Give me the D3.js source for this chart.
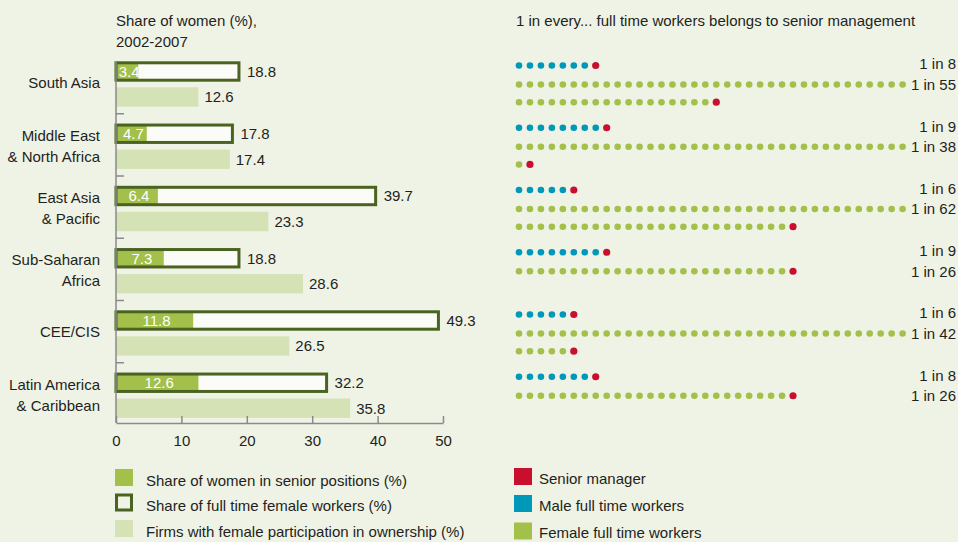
<!DOCTYPE html>
<html>
<head>
<meta charset="utf-8">
<script src="https://cdn.jsdelivr.net/npm/d3@7/dist/d3.min.js"></script>
<style>
  html, body { margin: 0; padding: 0; background: #eff3e6; }
  svg { display: block; font-family: "Liberation Sans", Arial, sans-serif; }
  text { fill: #231f20; }
</style>
</head>
<body>
<svg id="chart" width="958" height="542"></svg>
<script>
// Regions (each entry is the list of label lines)
const regions = [
  ["South Asia"],
  ["Middle East", "& North Africa"],
  ["East Asia", "& Pacific"],
  ["Sub-Saharan", "Africa"],
  ["CEE/CIS"],
  ["Latin America", "& Caribbean"]
];
// Share of women (%), 2002-2007
const seniorShare = [3.4, 4.7, 6.4, 7.3, 11.8, 12.6];
const femaleWorkerShare = [18.8, 17.8, 39.7, 18.8, 49.3, 32.2];
const femaleOwnership = [12.6, 17.4, 23.3, 28.6, 26.5, 35.8];
const xTicks = [0, 10, 20, 30, 40, 50];
// 1 in every N full time workers belongs to senior management
const maleRatio = [8, 9, 6, 9, 6, 8];
const femaleRatio = [55, 38, 62, 26, 42, 26];
const dotsPerRow = 36;

const leftLegend = [
  "Share of women in senior positions (%)",
  "Share of full time female workers (%)",
  "Firms with female participation in ownership (%)"
];
const rightLegend = ["Senior manager", "Male full time workers", "Female full time workers"];

const C = {
  bg: "#eff3e6",
  senior: "#a2c04a",
  outline: "#4a6321",
  ownership: "#d5e2b6",
  red: "#c8102e",
  blue: "#0098b8",
  green: "#a2c04a",
  axis: "#8a8a8a",
  text: "#231f20"
};

const svg = d3.select("#chart");
const FS = 15;

svg.append("rect").attr("width", 958).attr("height", 542).attr("fill", C.bg);

const keys = regions.map(r => r.join(" "));
const y = d3.scaleBand().domain(keys).range([51.5, 425]).paddingInner(0).paddingOuter(0);
const x = d3.scaleLinear().domain([0, 50]).range([116, 443]);

// ---- Left panel: bars ----
svg.append("text").attr("x", 116).attr("y", 21).attr("dy", "0.35em")
  .attr("font-size", FS).text("Share of women (%),");
svg.append("text").attr("x", 116).attr("y", 42).attr("dy", "0.35em")
  .attr("font-size", FS).text("2002-2007");

const g = svg.append("g");

regions.forEach((lines, i) => {
  const k = keys[i];
  const y0 = y(k);
  const band = y.bandwidth();
  // category label
  const cy = y0 + band / 2 + (lines.length > 1 ? 1 : 0);
  const lh = 21;
  lines.forEach((ln, j) => {
    g.append("text").attr("x", 100).attr("text-anchor", "end")
      .attr("y", cy + (j - (lines.length - 1) / 2) * lh).attr("dy", "0.35em")
      .attr("font-size", FS).text(ln);
  });

  // outlined bar: share of full-time female workers
  const oy = y0 + 11.3, oh = 17.4;
  g.append("rect").attr("x", x(0)).attr("y", oy)
    .attr("width", x(femaleWorkerShare[i]) - x(0)).attr("height", oh)
    .attr("fill", "#fbfcf7");
  g.append("rect").attr("x", x(0)).attr("y", oy)
    .attr("width", x(seniorShare[i]) - x(0)).attr("height", oh)
    .attr("fill", C.senior);
  g.append("rect").attr("x", x(0)).attr("y", oy)
    .attr("width", x(femaleWorkerShare[i]) - x(0)).attr("height", oh)
    .attr("fill", "none").attr("stroke", C.outline).attr("stroke-width", 3);
  g.append("text").attr("x", x(femaleWorkerShare[i]) + 8).attr("y", oy + oh / 2)
    .attr("dy", "0.35em").attr("font-size", FS).text(femaleWorkerShare[i].toFixed(1));
  g.append("text")
    .attr("x", Math.max(x(seniorShare[i] / 2) + 2, x(0) + 11))
    .attr("y", oy + oh / 2).attr("dy", "0.36em").attr("text-anchor", "middle")
    .attr("font-size", FS).style("fill", "#ffffff").text(seniorShare[i].toFixed(1));

  // light bar: female participation in ownership
  const ly = y0 + 35.8, lhgt = 19.4;
  g.append("rect").attr("x", x(0)).attr("y", ly)
    .attr("width", x(femaleOwnership[i]) - x(0)).attr("height", lhgt)
    .attr("fill", C.ownership);
  g.append("text").attr("x", x(femaleOwnership[i]) + 6).attr("y", ly + lhgt / 2)
    .attr("dy", "0.35em").attr("font-size", FS).text(femaleOwnership[i].toFixed(1));
});

// vertical axis with separators between regions
g.append("line").attr("x1", x(0)).attr("x2", x(0))
  .attr("y1", y(keys[0]) + 9.8).attr("y2", 423)
  .attr("stroke", C.axis).attr("stroke-width", 1.5);
keys.slice(1).forEach(k => {
  g.append("line").attr("x1", x(0)).attr("x2", x(0) + 8)
    .attr("y1", y(k)).attr("y2", y(k))
    .attr("stroke", C.axis).attr("stroke-width", 1.5);
});

// bottom axis
const xAxis = d3.axisBottom(x).tickValues(xTicks).tickFormat(d3.format("d"))
  .tickSizeInner(-7).tickSizeOuter(0).tickPadding(12);
const ax = svg.append("g").attr("transform", "translate(0,423)").call(xAxis);
ax.attr("font-family", null);
ax.select(".domain").attr("stroke", C.axis).attr("stroke-width", 1.5);
ax.selectAll(".tick line").attr("stroke", C.axis).attr("stroke-width", 1.5);
ax.selectAll(".tick text").attr("font-size", FS).style("fill", C.text);

// ---- Right panel: dots ----
svg.append("text").attr("x", 516).attr("y", 21).attr("dy", "0.35em")
  .attr("font-size", FS).text("1 in every... full time workers belongs to senior management");

const dx = d3.scaleLinear().domain([0, dotsPerRow - 1]).range([519, 902.6]);
const labelX = 956;
const d = svg.append("g");

regions.forEach((lines, i) => {
  const y0 = y(keys[i]);
  const maleY = y0 + 14;
  const femY = y0 + 33;
  const rowGap = 17.7;

  // male row: N-1 male workers then one senior manager
  const m = d3.range(maleRatio[i]);
  d.selectAll(null).data(m).enter().append("circle")
    .attr("cx", j => dx(j)).attr("cy", maleY)
    .attr("r", j => j === m.length - 1 ? 3.6 : 3.3)
    .attr("fill", j => j === m.length - 1 ? C.red : C.blue);
  d.append("text").attr("x", labelX).attr("y", maleY - 1.5).attr("dy", "0.35em")
    .attr("text-anchor", "end").attr("font-size", FS).text("1 in " + maleRatio[i]);

  // female rows, wrapped
  const f = d3.range(femaleRatio[i]);
  d.selectAll(null).data(f).enter().append("circle")
    .attr("cx", j => dx(j % dotsPerRow))
    .attr("cy", j => femY + Math.floor(j / dotsPerRow) * rowGap)
    .attr("r", j => j === f.length - 1 ? 3.6 : 3.3)
    .attr("fill", j => j === f.length - 1 ? C.red : C.green);
  d.append("text").attr("x", labelX).attr("y", femY).attr("dy", "0.35em")
    .attr("text-anchor", "end").attr("font-size", FS).text("1 in " + femaleRatio[i]);
});

// ---- Legends ----
const legY = [477.5, 502.5, 528.5];
leftLegend.forEach((t, i) => {
  if (i === 1) {
    svg.append("rect").attr("x", 116.5).attr("y", legY[i] - 7.5).attr("width", 15).attr("height", 15)
      .attr("fill", "none").attr("stroke", C.outline).attr("stroke-width", 3);
  } else {
    svg.append("rect").attr("x", 115).attr("y", legY[i] - 8.5).attr("width", 18).attr("height", 17)
      .attr("fill", i === 0 ? C.senior : C.ownership);
  }
  svg.append("text").attr("x", 146).attr("y", legY[i] + 3).attr("dy", "0.35em")
    .attr("font-size", FS).text(t);
});
const rColors = [C.red, C.blue, C.green];
const rLegY = [476.5, 503.5, 531];
rightLegend.forEach((t, i) => {
  svg.append("rect").attr("x", 514).attr("y", rLegY[i] - 8.5).attr("width", 18).attr("height", 17)
    .attr("fill", rColors[i]);
  svg.append("text").attr("x", 539).attr("y", rLegY[i] + 2).attr("dy", "0.35em")
    .attr("font-size", FS).text(t);
});
</script>
</body>
</html>
